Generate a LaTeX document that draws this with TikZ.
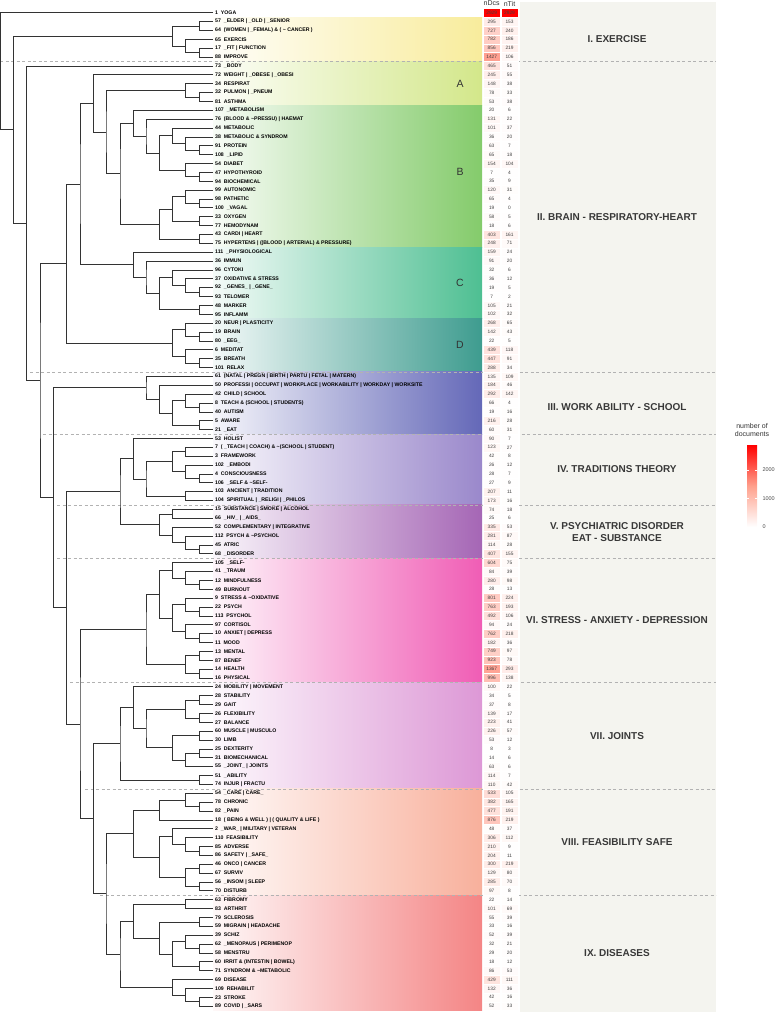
\documentclass[tikz,border=0pt]{standalone}
\usepackage{fontspec}
\setmainfont{Liberation Sans}
\usetikzlibrary{calc}

\definecolor{cI}{HTML}{F8EC9C}
\definecolor{cA}{HTML}{D3E78A}
\definecolor{cB}{HTML}{84CB6B}
\definecolor{cC}{HTML}{4EBF92}
\definecolor{cD}{HTML}{3E9C8F}
\definecolor{cIII}{HTML}{6468B8}
\definecolor{cIV}{HTML}{9A88CB}
\definecolor{cV}{HTML}{A566B5}
\definecolor{cVI}{HTML}{F05DB5}
\definecolor{cVII}{HTML}{DD98D6}
\definecolor{cVIII}{HTML}{F8B09C}
\definecolor{cIX}{HTML}{F48585}
\definecolor{panel}{HTML}{F4F4EF}
\definecolor{peach}{RGB}{255,160,140}

\newcommand\tld{\textasciitilde}
\newcommand\rowy[1]{12.7+8.87*(#1)}
% merge two branches at height #2
\newcommand\mrg[4]{%
  \path let \p1=($(#3)!0.5!(#4)$) in coordinate (#1) at (#2pt,\y1);
  \draw[tree] (#3) -| (#1) |- (#4);}
% cell colour, white to red
\newcommand\heat[2]{%
  \pgfmathsetmacro\tt{min(1,#2/2929)}%
  \pgfmathtruncatemacro\gg{255*(1-\tt)^0.7}%
  \pgfmathtruncatemacro\bb{255*(1-\tt)^0.85}%
  \definecolor{#1}{RGB}{255,\gg,\bb}}

\tikzset{
  tree/.style={line width=0.7pt, black!80},
  leaf/.style={anchor=west, inner sep=0pt, font=\fontsize{5.2}{5}\selectfont\bfseries},
  cell/.style={minimum width=17pt, minimum height=8.87pt, inner sep=0pt, draw=white, line width=0.4pt,
    text=black!75, font=\fontsize{4.8}{4}\selectfont},
  sect/.style={font=\fontsize{10}{12}\selectfont\bfseries, text=black!78, align=center},
  sep/.style={black!30, line width=0.4pt, dash pattern=on 3pt off 2.5pt},
  clab/.style={font=\fontsize{10.5}{11}\selectfont, text=black!80}
}

\begin{document}
\begin{tikzpicture}[x=1pt, y=-1pt]
\useasboundingbox (0,0) rectangle (774,1014);
\fill[panel] (520,2) rectangle (716,1012);

% bands
\foreach \a/\b/\c in {1/5/cI, 6/10/cA, 11/26/cB, 27/34/cC, 35/40/cD, 41/47/cIII,
    48/55/cIV, 56/61/cV, 62/75/cVI, 76/87/cVII, 88/99/cVIII, 100/112/cIX}
  \shade[left color=\c!6!white, right color=\c] (213,{\rowy{\a-0.5}}) rectangle (482,{\rowy{\b+0.5}});

\foreach \k/\s in {5/0,40/30,47/43,55/57,61/57,75/70,87/85,99/100}
  \draw[sep] (\s,{\rowy{\k+0.5}}) -- (716,{\rowy{\k+0.5}});

\node[clab] (A) at (460,{\rowy{8}}) {A};
\node[clab] (B) at (460,{\rowy{18}}) {B};
\node[clab] (C) at (460,{\rowy{30.5}}) {C};
\node[clab] (D) at (460,{\rowy{37.5}}) {D};

% rows
\foreach \id/\lab/\nd/\nt [count=\i from 0] in {
  1/YOGA/2929/2929,
  57/\_ELDER | \_OLD | \_SENIOR/295/153,
  64/(WOMEN | \_FEMAL) \& ( \tld\ CANCER )/727/240,
  65/EXERCIS/782/186,
  17/\_FIT | FUNCTION/856/219,
  88/IMPROVE/1427/106,
  73/\_BODY/465/51,
  72/WEIGHT | \_OBESE | \_OBESI/245/55,
  34/RESPIRAT/148/38,
  32/PULMON | \_PNEUM/78/33,
  81/ASTHMA/53/38,
  107/\_METABOLISM/20/6,
  76/(BLOOD \& \tld PRESSU) | HAEMAT/131/22,
  44/METABOLIC/101/37,
  38/METABOLIC \& SYNDROM/36/20,
  91/PROTEIN/63/7,
  108/\_LIPID/65/18,
  54/DIABET/154/104,
  47/HYPOTHYROID/7/4,
  94/BIOCHEMICAL/35/9,
  99/AUTONOMIC/120/31,
  98/PATHETIC/65/4,
  100/\_VAGAL/19/0,
  33/OXYGEN/58/5,
  77/HEMODYNAM/18/6,
  43/CARDI | HEART/403/161,
  75/HYPERTENS | ((BLOOD | ARTERIAL) \& PRESSURE)/248/71,
  111/\_PHYSIOLOGICAL/159/24,
  36/IMMUN/91/20,
  96/CYTOKI/32/6,
  37/OXIDATIVE \& STRESS/36/12,
  92/\_GENES\_ | \_GENE\_/19/5,
  93/TELOMER/7/2,
  48/MARKER/105/21,
  95/INFLAMM/102/32,
  20/NEUR | PLASTICITY/268/65,
  19/BRAIN/142/43,
  80/\_EEG\_/22/5,
  6/MEDITAT/439/118,
  35/BREATH/447/91,
  101/RELAX/288/34,
  61/(NATAL | PREGN | BIRTH | PARTU | FETAL | MATERN)/135/109,
  50/PROFESSI | OCCUPAT | WORKPLACE | WORKABILITY | WORKDAY | WORKSITE/184/46,
  42/CHILD | SCHOOL/292/142,
  8/TEACH \& (SCHOOL | STUDENTS)/66/4,
  40/AUTISM/19/16,
  5/AWARE/216/28,
  21/\_EAT/60/31,
  53/HOLIST/90/7,
  7/( \_TEACH | COACH) \& \tld(SCHOOL | STUDENT)/123/27,
  3/FRAMEWORK/42/8,
  102/\_EMBODI/26/12,
  4/CONSCIOUSNESS/28/7,
  106/\_SELF \& \tld SELF-/27/9,
  103/ANCIENT | TRADITION/207/11,
  104/SPIRITUAL | \_RELIGI | \_PHILOS/173/16,
  15/SUBSTANCE | SMOKE | ALCOHOL/74/18,
  66/\_HIV\_ | \_AIDS\_/25/6,
  52/COMPLEMENTARY | INTEGRATIVE/335/53,
  112/PSYCH \& \tld PSYCHOL/281/87,
  45/ATRIC/114/28,
  68/\_DISORDER/407/155,
  105/\_SELF-/604/75,
  41/\_TRAUM/84/39,
  12/MINDFULNESS/280/98,
  49/BURNOUT/28/13,
  9/STRESS \& \tld OXIDATIVE/801/224,
  22/PSYCH/763/193,
  113/PSYCHOL/492/106,
  97/CORTISOL/94/24,
  10/ANXIET | DEPRESS/762/218,
  11/MOOD/182/36,
  13/MENTAL/749/97,
  87/BENEF/923/78,
  14/HEALTH/1367/293,
  16/PHYSICAL/996/138,
  24/MOBILITY | MOVEMENT/100/22,
  28/STABILITY/34/5,
  29/GAIT/37/8,
  26/FLEXIBILITY/139/17,
  27/BALANCE/223/41,
  60/MUSCLE | MUSCULO/226/57,
  30/LIMB/53/12,
  25/DEXTERITY/8/3,
  31/BIOMECHANICAL/14/6,
  55/\_JOINT\_ | JOINTS/63/6,
  51/\_ABILITY/114/7,
  74/INJUR | FRACTU/110/42,
  54/\_CARE | CARE\_/533/105,
  78/CHRONIC/382/165,
  82/\_PAIN/477/191,
  18/( BEING \& WELL ) | ( QUALITY \& LIFE )/876/219,
  2/\_WAR\_ | MILITARY | VETERAN/48/37,
  110/FEASIBILITY/306/112,
  85/ADVERSE/210/9,
  86/SAFETY | \_SAFE\_/204/11,
  46/ONCO | CANCER/300/219,
  67/SURVIV/129/80,
  56/\_INSOM | SLEEP/285/70,
  70/DISTURB/97/8,
  63/FIBROMY/22/14,
  83/ARTHRIT/101/69,
  79/SCLEROSIS/55/39,
  59/MIGRAIN | HEADACHE/33/16,
  39/SCHIZ/52/39,
  62/\_MENOPAUS | PERIMENOP/32/21,
  58/MENSTRU/29/20,
  60/IRRIT \& (INTESTIN | BOWEL)/18/12,
  71/SYNDROM \& \tld METABOLIC/86/53,
  69/DISEASE/429/111,
  109/REHABILIT/132/36,
  23/STROKE/42/16,
  89/COVID | \_SARS/52/33}
{
  \pgfmathsetmacro\yy{\rowy{\i}}
  \coordinate (r\i) at (213,\yy);
  \node[leaf] (t\i) at (215,\yy) {\id\ \ \lab};
  \heat{hd}{\nd}\heat{ht}{\nt}
  \node[cell, fill=hd] (d\i) at (491.7,\yy) {\nd};
  \node[cell, fill=ht] (n\i) at (509.5,\yy) {\nt};
}

\node[font=\fontsize{7}{7}\selectfont, text=black!80] (hdcs) at (491.7,3.5) {nDcs};
\node[font=\fontsize{7}{7}\selectfont, text=black!80] (htit) at (509.5,3.5) {nTit};

% sections
\node[sect] (s1) at (617,{\rowy{3}}) {I. EXERCISE};
\node[sect] (s2) at (617,{\rowy{23}}) {II. BRAIN - RESPIRATORY-HEART};
\node[sect] (s3) at (617,{\rowy{44.5}}) {III. WORK ABILITY - SCHOOL};
\node[sect] (s4) at (617,{\rowy{51.5}}) {IV. TRADITIONS THEORY};
\node[sect] (s5) at (617,{\rowy{58.5}}) {V. PSYCHIATRIC DISORDER\\EAT - SUBSTANCE};
\node[sect] (s6) at (617,{\rowy{68.5}}) {VI. STRESS - ANXIETY - DEPRESSION};
\node[sect] (s7) at (617,{\rowy{81.5}}) {VII. JOINTS};
\node[sect] (s8) at (617,{\rowy{93.5}}) {VIII. FEASIBILITY SAFE};
\node[sect] (s9) at (617,{\rowy{106}}) {IX. DISEASES};

% legend
\node[font=\fontsize{7}{8.5}\selectfont, text=black!80, align=center] (lg) at (752,430) {number of\\documents};
\shade[top color=red, bottom color=white, middle color=peach] (747,445) rectangle (757,527);
\foreach \v in {0,1000,2000}{
  \draw[white, line width=0.4pt] (747,{527-\v*0.0285}) -- +(2,0) (757,{527-\v*0.0285}) -- +(-2,0);
  \node[anchor=west, font=\fontsize{5.5}{6}\selectfont, text=black!70] at (759,{527-\v*0.0285}) {\v};
}

% dendrogram
\foreach \nm/\hx/\ca/\cb in {
  a1/199.3/r1/r2, a2/199.3/r4/r5, a3/185.7/r3/a2, sI/172.7/a1/a3,
  b1/199.3/r9/r10, b2/185.7/r8/b1,
  b3/199.3/r15/r16, b4/185.7/r14/b3, b5/172.7/r13/b4,
  b6/199.3/r18/r19, b7/185.7/r17/b6, b8/159.3/b5/b7, b9/146/r12/b8, b10/133.3/r11/b9,
  b11/199.3/r21/r22, b12/185.7/r20/b11, b13/199.3/r23/r24, b14/172.7/b12/b13,
  b15/199.3/r25/r26, b16/159.3/b14/b15,
  sB/120/b10/b16, b17/106/b2/sB, b18/93.3/r7/b17,
  c1/199.3/r31/r32, c2/185.7/r30/c1, c3/172.7/r29/c2, c4/199.3/r33/r34,
  c5/159.3/c3/c4, c6/146/r28/c5, sC/133.3/r27/c6,
  b19/80/b18/sC,
  d1/199.3/r36/r37, d2/185.7/r35/d1, d3/199.3/r39/r40, d4/185.7/r38/d3, sD/172.7/d2/d4,
  sII/66.7/b19/sD,
  e1/199.3/r44/r45, e2/185.7/r43/e1, e3/199.3/r46/r47, e4/172.7/e2/e3, e5/159.3/r42/e4,
  sIII/146/r41/e5,
  f1/185.7/r49/r50, f2/199.3/r52/r53, f3/185.7/r51/f2, f4/172.7/f1/f3,
  f6/185.7/r54/r55, f7/146/f4/f6, sIV/133.3/r48/f7,
  g1/172.7/r56/r57, g2/199.3/r60/r61, g3/185.7/r59/g2, g4/172.7/r58/g3, sV/159.3/g1/g4,
  IVV/120/sIV/sV,
  h1/199.3/r64/r65, h2/185.7/r63/h1, h3/172.7/r62/h2, h4/199.3/r67/r68, h5/185.7/r66/h4,
  h6/199.3/r70/r71, h7/185.7/r69/h6, h8/172.7/h5/h7, h9/159.3/h3/h8,
  h10/199.3/r72/r73, h11/199.3/r74/r75, h12/185.7/h10/h11, sVI/146/h9/h12,
  i1/199.3/r77/r78, i2/199.3/r79/r80, i3/185.7/i1/i2, i4/199.3/r81/r82, i5/199.3/r83/r84,
  i6/185.7/i5/r85, i7/172.7/i4/i6, i8/146/i3/i7, i9/133.3/r76/i8, i10/199.3/r86/r87,
  sVII/120/i9/i10,
  j1/199.3/r89/r90, j2/185.7/r88/j1, j3/159.3/j2/r91, j4/199.3/r94/r95, j5/185.7/r93/j4,
  j6/172.7/r92/j5, j7/199.3/r96/r97, j8/199.3/r98/r99, j9/185.7/j7/j8, j10/159.3/j6/j9,
  sVIII/133.3/j3/j10,
  k1/185.7/r100/r101, k2/199.3/r102/r103, k3/199.3/r105/r106, k4/185.7/r104/k3,
  k5/199.3/r107/r108, k6/172.7/k4/k5, k7/159.3/k2/k6, k8/133.3/k1/k7, k9/199.3/r111/r112,
  k10/185.7/r110/k9, k11/172.7/r109/k10, sIX/120/k8/k11,
  p1/106/sVIII/sIX, p2/93.3/sVII/p1, p3/80/sVI/p2, p4/66.7/IVV/p3, p5/53.3/sIII/p4,
  R3/40/sII/p5, R2/26.7/r6/R3, R1/13.3/sI/R2, root/0.7/r0/R1}
  {\mrg{\nm}{\hx}{\ca}{\cb}}
\end{tikzpicture}
\end{document}
